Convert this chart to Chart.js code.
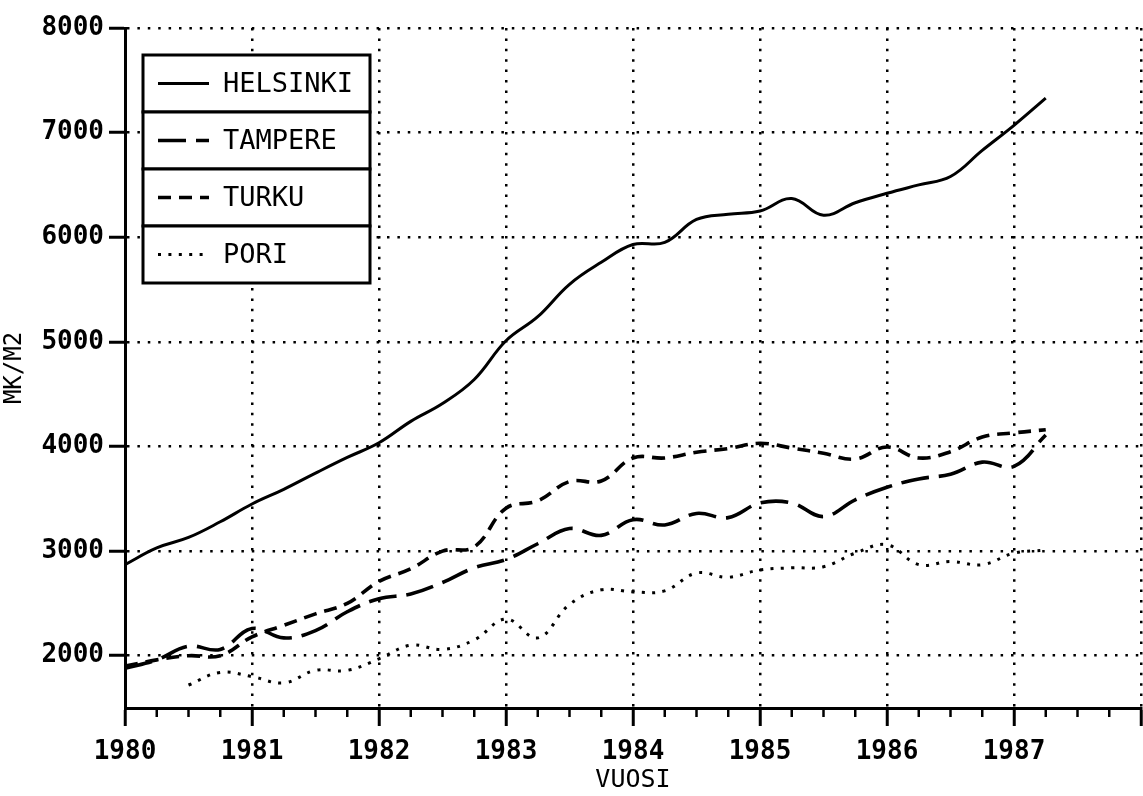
<!DOCTYPE html>
<html><head><meta charset="utf-8">
<script src="https://cdn.jsdelivr.net/npm/chart.js@4/dist/chart.umd.min.js"></script>
<style>html,body{margin:0;padding:0;background:#fff}#wrap{width:1143px;height:796px}</style>
</head><body><div id="wrap"><canvas id="c" width="1143" height="796"></canvas></div>
<script>
// ---- data (quarterly, MK/M2) ----
const quarters = [1980,1980.25,1980.5,1980.75,1981,1981.25,1981.5,1981.75,1982,1982.25,1982.5,1982.75,
  1983,1983.25,1983.5,1983.75,1984,1984.25,1984.5,1984.75,1985,1985.25,1985.5,1985.75,
  1986,1986.25,1986.5,1986.75,1987,1987.25];
const helsinki = [2870,3030,3130,3280, 3450,3590,3745,3895, 4035,4240,4410,4640, 5010,5240,5550,5760,
  5930,5950,6170,6220, 6250,6370,6210,6330, 6420,6500,6580,6830, 7070,7330];
const tampere = [1880,1960,2090,2060, 2260,2170,2240,2420, 2545,2590,2700,2840, 2920,3070,3215,3150,
  3300,3250,3360,3320, 3460,3460,3330,3490, 3610,3690,3735,3850, 3810,4110];
const turku = [1900,1960,2000,2000, 2180,2290,2400,2500, 2710,2830,3000,3040, 3410,3480,3665,3670,
  3890,3890,3945,3980, 4030,3985,3935,3880, 3995,3890,3950,4090, 4130,4160];
const pori = [null,null,1720,1840, 1800,1740,1860,1860, 1970,2100,2060,2150, 2350,2170,2490,2630,
  2610,2620,2790,2750, 2820,2840,2850,2980, 3060,2870,2900,2870, 2980,3010];
const seriesNames = ['HELSINKI','TAMPERE','TURKU','PORI'];
const xTickYears = [1980,1981,1982,1983,1984,1985,1986,1987,1988];
const xLabelYears = [1980,1981,1982,1983,1984,1985,1986,1987];
const yTickValues = [2000,3000,4000,5000,6000,7000,8000];
const xTitle = 'VUOSI';
const yTitle = 'MK/M2';

const FONT = "'DejaVu Sans Mono', monospace";
const pts = arr => quarters.map((q, i) => ({x: q, y: arr[i]}));

const minorTicks = {
  id: 'minorTicks',
  afterDraw(chart) {
    const xs = chart.scales.x, ctx = chart.ctx;
    ctx.save();
    ctx.strokeStyle = '#000';
    ctx.lineWidth = 2.5;
    for (let v = xs.min; v <= xs.max + 1e-9; v += 0.25) {
      if (Math.abs(v - Math.round(v)) < 1e-6) continue;
      const px = xs.getPixelForValue(v);
      ctx.beginPath();
      ctx.moveTo(px, xs.top);
      ctx.lineTo(px, xs.top + 9);
      ctx.stroke();
    }
    ctx.restore();
  }
};

const boxLegend = {
  id: 'boxLegend',
  afterDraw(chart) {
    const ctx = chart.ctx, ca = chart.chartArea;
    const left = ca.left + 18, top = ca.top + 27, w = 227, rowH = 57;
    ctx.save();
    chart.data.datasets.forEach((ds, i) => {
      const y = top + i * rowH;
      ctx.fillStyle = '#fff';
      ctx.fillRect(left, y, w, rowH);
      ctx.setLineDash([]);
      ctx.lineWidth = 3;
      ctx.strokeStyle = '#000';
      ctx.strokeRect(left, y, w, rowH);
      const cy = y + rowH / 2;
      ctx.beginPath();
      ctx.setLineDash(ds.borderDash || []);
      ctx.lineWidth = ds.borderWidth;
      ctx.moveTo(left + 15, cy);
      ctx.lineTo(left + 66, cy);
      ctx.stroke();
      ctx.setLineDash([]);
      ctx.fillStyle = '#000';
      ctx.font = '27px ' + FONT;
      ctx.textBaseline = 'middle';
      ctx.textAlign = 'left';
      ctx.fillText(ds.label, left + 80, cy + 1);
    });
    ctx.restore();
  }
};

const lineBase = {borderColor: '#000', pointRadius: 0, tension: 0.4, fill: false, borderCapStyle: 'butt'};

new Chart(document.getElementById('c'), {
  type: 'line',
  data: {
    datasets: [
      Object.assign({label: seriesNames[0], data: pts(helsinki), borderDash: [], borderWidth: 3}, lineBase),
      Object.assign({label: seriesNames[1], data: pts(tampere), borderDash: [28, 10], borderWidth: 3.6}, lineBase),
      Object.assign({label: seriesNames[2], data: pts(turku), borderDash: [13, 8], borderWidth: 3.6}, lineBase),
      Object.assign({label: seriesNames[3], data: pts(pori), borderDash: [3, 7.4], borderWidth: 3}, lineBase)
    ]
  },
  options: {
    responsive: false,
    animation: false,
    devicePixelRatio: 1,
    layout: {padding: {top: 28, right: 2, left: 0, bottom: 0}},
    plugins: {legend: {display: false}, tooltip: {enabled: false}},
    scales: {
      x: {
        type: 'linear', position: 'bottom', min: 1980, max: 1988,
        afterBuildTicks: s => { s.ticks = xTickYears.map(v => ({value: v})); },
        afterFit: s => { s.height = 88; s.paddingLeft = 0; s.paddingRight = 0; },
        ticks: {
          callback: v => xLabelYears.includes(v) ? String(v) : '',
          font: {family: FONT, size: 26, weight: 'bold'}, color: '#000',
          padding: 11, maxRotation: 0, autoSkip: false
        },
        grid: {color: '#000', lineWidth: 2.5, tickLength: 18, tickWidth: 3, tickColor: '#000'},
        border: {display: true, color: '#000', width: 3, dash: [2.5, 7.9]},
        title: {display: true, text: xTitle, font: {family: FONT, size: 25}, color: '#000', padding: {top: 0, bottom: 1}}
      },
      y: {
        type: 'linear', min: 1500, max: 8000,
        afterBuildTicks: s => { s.ticks = yTickValues.map(v => ({value: v})); },
        afterFit: s => { s.width = 125; s.paddingTop = 0; s.paddingBottom = 0; },
        ticks: {callback: v => String(v), font: {family: FONT, size: 26, weight: 'bold'}, color: '#000', padding: 5},
        grid: {color: '#000', lineWidth: 2.5, tickLength: 16, tickWidth: 3, tickColor: '#000'},
        border: {display: true, color: '#000', width: 3, dash: [2.5, 7.9]},
        title: {display: true, text: yTitle, font: {family: FONT, size: 24}, color: '#000', padding: {top: 0, bottom: 0}}
      }
    }
  },
  plugins: [minorTicks, boxLegend]
});
</script>
</body></html>
